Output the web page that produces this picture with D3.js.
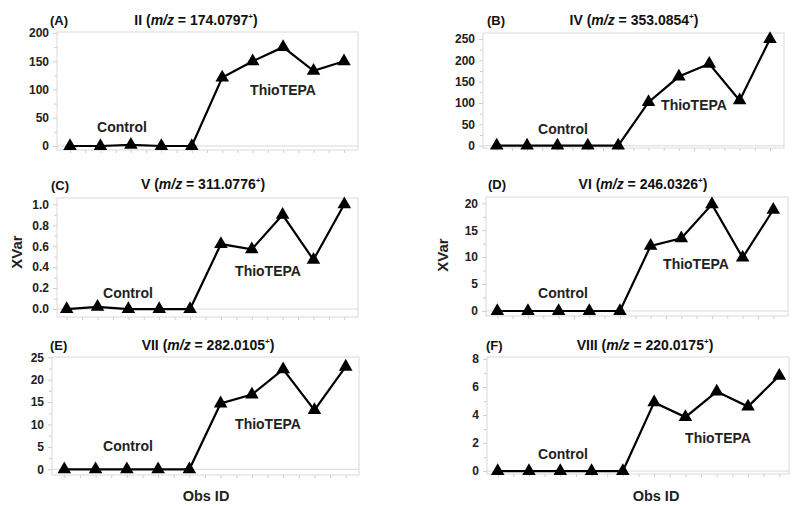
<!DOCTYPE html>
<html>
<head>
<meta charset="utf-8">
<script src="https://cdn.jsdelivr.net/npm/d3@7/dist/d3.min.js"></script>
<style>
  html, body { margin: 0; padding: 0; background: #fff; }
  svg { display: block; font-family: "Liberation Sans", Arial, sans-serif; }
</style>
</head>
<body>
<svg id="chart" width="800" height="506"></svg>
<script>
// ---------- DATA ----------
const obsIds = [1, 2, 3, 4, 5, 6, 7, 8, 9, 10];
const groupLabels = ["Control", "ThioTEPA"];
const panelLetters = ["(A)", "(B)", "(C)", "(D)", "(E)", "(F)"];
const compoundNames = ["II", "IV", "V", "VI", "VII", "VIII"];
const mzValues = ["174.0797", "353.0854", "311.0776", "246.0326", "282.0105", "220.0175"];

const seriesA = [0, 0, 2, 0, 0, 121, 150, 175, 133, 150];
const seriesB = [0, 0, 0, 0, 0, 102, 162, 192, 106, 250];
const seriesC = [0, 0.02, 0, 0, 0, 0.62, 0.57, 0.90, 0.47, 1.0];
const seriesD = [0, 0, 0, 0, 0, 12.1, 13.5, 19.8, 9.9, 18.8];
const seriesE = [0, 0, 0, 0, 0, 14.7, 16.7, 22.3, 13.2, 22.9];
const seriesF = [0, 0, 0, 0, 0, 4.9, 3.85, 5.67, 4.6, 6.8];

const yTicksA = [0, 50, 100, 150, 200];
const yTicksB = [0, 50, 100, 150, 200, 250];
const yTicksC = [0, 0.2, 0.4, 0.6, 0.8, 1.0];
const yTicksD = [0, 5, 10, 15, 20];
const yTicksE = [0, 5, 10, 15, 20, 25];
const yTicksF = [0, 2, 4, 6, 8];

const yAxisTitle = "XVar";
const xAxisTitle = "Obs ID";

// ---------- LAYOUT (positions / styles only) ----------
const layout = [
  { box: [57, 358, 32, 150], x0: 70, x9: 344, yDom: [-7.1, 201.8], fmt: d3.format("d"),
    letter: [50, 25], title: [196, 25], ctrl: [122, 132], thio: [283, 95] },
  { box: [483, 784, 33, 148], x0: 496.7, x9: 770, yDom: [-5.4, 264], fmt: d3.format("d"),
    letter: [487, 25], title: [634, 25], ctrl: [563, 134], thio: [694, 110] },
  { box: [57, 358, 198, 317], x0: 66.7, x9: 344.3, yDom: [-0.076, 1.06], fmt: d3.format(".1f"),
    letter: [51, 190], title: [203, 189], ctrl: [128, 298], thio: [268, 276] },
  { box: [486, 788, 197, 316], x0: 497.3, x9: 773.3, yDom: [-0.93, 21.17], fmt: d3.format("d"),
    letter: [488, 189], title: [643, 189], ctrl: [563, 298], thio: [696, 269] },
  { box: [52, 359, 357, 475], x0: 64.3, x9: 345.7, yDom: [-1.27, 25.07], fmt: d3.format("d"),
    letter: [50, 350], title: [208, 350], ctrl: [128, 451], thio: [268, 429] },
  { box: [487, 789, 357, 474], x0: 497.7, x9: 779.3, yDom: [-0.21, 8.14], fmt: d3.format("d"),
    letter: [486, 350], title: [645, 350], ctrl: [563, 459], thio: [718, 443] }
];

const allSeries = [seriesA, seriesB, seriesC, seriesD, seriesE, seriesF];
const allTicks = [yTicksA, yTicksB, yTicksC, yTicksD, yTicksE, yTicksF];

const svg = d3.select("#chart");
const frameColor = "#d9d9d9";
const tickColor = "#cfcfcf";

layout.forEach((L, p) => {
  const [bx0, bx1, by0, by1] = L.box;
  const values = allSeries[p];
  const ticks = allTicks[p];

  const x = d3.scaleLinear().domain([0, obsIds.length - 1]).range([L.x0, L.x9]);
  const y = d3.scaleLinear().domain(L.yDom).range([by1, by0]);

  const g = svg.append("g");

  // frame
  g.append("rect")
    .attr("x", bx0).attr("y", by0)
    .attr("width", bx1 - bx0).attr("height", by1 - by0)
    .attr("fill", "none").attr("stroke", frameColor).attr("stroke-width", 1);

  // zero line
  g.append("line")
    .attr("x1", bx0).attr("x2", bx1)
    .attr("y1", y(0)).attr("y2", y(0))
    .attr("stroke", frameColor).attr("stroke-width", 1);

  // minor x ticks (half steps) along bottom
  const xMinor = [];
  for (let i = 0; i < obsIds.length; i++) { xMinor.push(i); if (i < obsIds.length - 1) xMinor.push(i + 0.5); }
  const xAxis = d3.axisBottom(x).tickValues(xMinor).tickSize(3).tickFormat("");
  const xa = g.append("g").attr("transform", `translate(0,${by1})`).call(xAxis);
  xa.select(".domain").remove();
  xa.selectAll(".tick line").attr("stroke", tickColor);

  // y axis: labels, major + minor ticks
  const step = ticks[1] - ticks[0];
  const minor = [];
  ticks.forEach((t, i) => { if (i < ticks.length - 1) minor.push(t + step / 2); });
  const yMinorAxis = d3.axisLeft(y).tickValues(minor).tickSize(3).tickFormat("");
  const ym = g.append("g").attr("transform", `translate(${bx0},0)`).call(yMinorAxis);
  ym.select(".domain").remove();
  ym.selectAll(".tick line").attr("stroke", tickColor);

  const yAxis = d3.axisLeft(y).tickValues(ticks).tickSize(4).tickPadding(4).tickFormat(L.fmt);
  const ya = g.append("g").attr("transform", `translate(${bx0},0)`).call(yAxis);
  ya.select(".domain").remove();
  ya.selectAll(".tick line").attr("stroke", tickColor);
  ya.selectAll(".tick text")
    .attr("font-family", "Liberation Sans, Arial, sans-serif")
    .attr("font-size", 12).attr("font-weight", "bold").attr("fill", "#222");

  // line
  const line = d3.line().x((d, i) => x(i)).y(d => y(d));
  g.append("path").datum(values)
    .attr("d", line).attr("fill", "none")
    .attr("stroke", "#000").attr("stroke-width", 2.2).attr("stroke-linejoin", "miter");

  // triangle markers
  const sym = d3.symbol().type(d3.symbolTriangle).size(80);
  g.selectAll("path.mark").data(values).enter().append("path")
    .attr("class", "mark")
    .attr("d", sym)
    .attr("transform", (d, i) => `translate(${x(i)},${y(d)})`)
    .attr("fill", "#000");

  // group labels
  g.append("text").attr("x", L.ctrl[0]).attr("y", L.ctrl[1])
    .attr("text-anchor", "middle").attr("font-size", 14).attr("font-weight", "bold")
    .attr("fill", "#222").text(groupLabels[0]);
  g.append("text").attr("x", L.thio[0]).attr("y", L.thio[1])
    .attr("text-anchor", "middle").attr("font-size", 14).attr("font-weight", "bold")
    .attr("fill", "#222").text(groupLabels[1]);

  // panel letter
  g.append("text").attr("x", L.letter[0]).attr("y", L.letter[1])
    .attr("font-size", 13).attr("font-weight", "bold").attr("fill", "#111")
    .text(panelLetters[p]);

  // title
  const t = g.append("text").attr("x", L.title[0]).attr("y", L.title[1])
    .attr("text-anchor", "middle").attr("font-size", 14).attr("font-weight", "bold").attr("fill", "#111");
  t.append("tspan").text(compoundNames[p] + " (");
  t.append("tspan").attr("font-style", "italic").text("m/z");
  t.append("tspan").text(" = " + mzValues[p]);
  t.append("tspan").attr("font-size", 8).attr("dy", -6).text("+");
  t.append("tspan").attr("dy", 6).text(")");
});

// axis titles
[[16, 252], [442, 255]].forEach(([cx, cy]) => {
  svg.append("text")
    .attr("transform", `translate(${cx},${cy}) rotate(-90)`)
    .attr("text-anchor", "middle").attr("dominant-baseline", "central")
    .attr("font-size", 15).attr("font-weight", "bold").attr("fill", "#222")
    .text(yAxisTitle);
});
[[206, 501], [656, 501]].forEach(([cx, cy]) => {
  svg.append("text").attr("x", cx).attr("y", cy)
    .attr("text-anchor", "middle")
    .attr("font-size", 14.5).attr("font-weight", "bold").attr("fill", "#222")
    .text(xAxisTitle);
});
</script>
</body>
</html>
